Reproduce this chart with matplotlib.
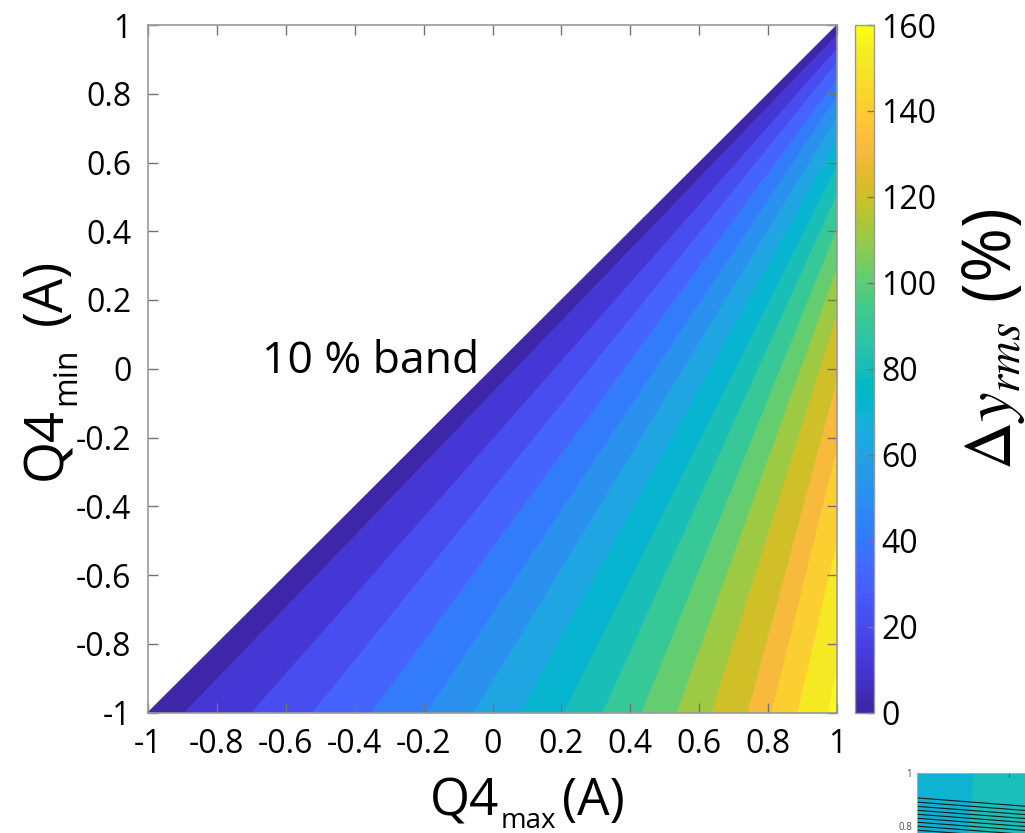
import numpy as np
import matplotlib
matplotlib.use("Agg")
import matplotlib.pyplot as plt
from matplotlib.colors import ListedColormap, Normalize
from matplotlib.cm import ScalarMappable

# ---- data -------------------------------------------------------------
# contour levels of the rms deviation (%)
levels = [0, 10, 20, 30, 40, 50, 60, 70, 80, 90, 100, 110, 120, 130, 140, 150, 160]
# where each level (10 ... 160) crosses the bottom edge Q4min = -1
x_bottom = [-0.893, -0.698, -0.521, -0.350, -0.190, -0.053, 0.080, 0.210,
            0.321, 0.434, 0.536, 0.637, 0.742, 0.811, 0.887, 0.974]
# where each level (10 ... 160) crosses the right edge Q4max = 1
y_right = [0.970, 0.930, 0.890, 0.840, 0.790, 0.730, 0.665, 0.590,
           0.505, 0.405, 0.290, 0.156, -0.039, -0.237, -0.508, -0.869]

tick_vals = [-1, -0.8, -0.6, -0.4, -0.2, 0, 0.2, 0.4, 0.6, 0.8, 1]
tick_labels = ["-1", "-0.8", "-0.6", "-0.4", "-0.2", "0", "0.2", "0.4", "0.6", "0.8", "1"]
cbar_ticks = [0, 20, 40, 60, 80, 100, 120, 140, 160]

# small neighbouring panel peeking in at the corner
inset_lines_left = [0.906, 0.890, 0.874, 0.859, 0.844, 0.829, 0.814, 0.799, 0.784]
inset_lines_right = [0.846, 0.830, 0.815, 0.800, 0.785, 0.770, 0.755, 0.740, 0.725]

# ---- parula colormap --------------------------------------------------
parula_data = [
    [0.2422, 0.1504, 0.6603], [0.2504, 0.1650, 0.7076], [0.2578, 0.1818, 0.7511],
    [0.2647, 0.1978, 0.7952], [0.2706, 0.2147, 0.8364], [0.2751, 0.2342, 0.8710],
    [0.2783, 0.2559, 0.8991], [0.2803, 0.2782, 0.9221], [0.2813, 0.3006, 0.9414],
    [0.2810, 0.3228, 0.9579], [0.2795, 0.3447, 0.9717], [0.2760, 0.3667, 0.9829],
    [0.2699, 0.3892, 0.9906], [0.2602, 0.4123, 0.9952], [0.2440, 0.4358, 0.9988],
    [0.2206, 0.4603, 0.9973], [0.1963, 0.4847, 0.9892], [0.1834, 0.5074, 0.9798],
    [0.1786, 0.5289, 0.9682], [0.1764, 0.5499, 0.9520], [0.1687, 0.5703, 0.9359],
    [0.1540, 0.5902, 0.9218], [0.1460, 0.6091, 0.9079], [0.1380, 0.6276, 0.8973],
    [0.1248, 0.6459, 0.8883], [0.1113, 0.6635, 0.8763], [0.0952, 0.6798, 0.8598],
    [0.0689, 0.6948, 0.8394], [0.0297, 0.7082, 0.8163], [0.0036, 0.7203, 0.7917],
    [0.0067, 0.7312, 0.7660], [0.0433, 0.7411, 0.7394], [0.0964, 0.7500, 0.7120],
    [0.1408, 0.7584, 0.6842], [0.1717, 0.7670, 0.6554], [0.1938, 0.7758, 0.6251],
    [0.2161, 0.7843, 0.5923], [0.2470, 0.7918, 0.5567], [0.2906, 0.7973, 0.5188],
    [0.3406, 0.8008, 0.4789], [0.3909, 0.8029, 0.4354], [0.4456, 0.8024, 0.3909],
    [0.5044, 0.7993, 0.3480], [0.5616, 0.7942, 0.3045], [0.6174, 0.7876, 0.2612],
    [0.6720, 0.7793, 0.2227], [0.7242, 0.7698, 0.1910], [0.7738, 0.7598, 0.1646],
    [0.8203, 0.7498, 0.1535], [0.8634, 0.7406, 0.1596], [0.9035, 0.7330, 0.1774],
    [0.9393, 0.7288, 0.2100], [0.9728, 0.7298, 0.2394], [0.9956, 0.7434, 0.2371],
    [0.9970, 0.7659, 0.2199], [0.9952, 0.7893, 0.2028], [0.9892, 0.8136, 0.1885],
    [0.9786, 0.8386, 0.1766], [0.9676, 0.8639, 0.1643], [0.9610, 0.8890, 0.1537],
    [0.9597, 0.9135, 0.1423], [0.9628, 0.9373, 0.1265], [0.9691, 0.9606, 0.1064],
    [0.9769, 0.9839, 0.0805]]
parula = ListedColormap(parula_data, name="parula")

# ---- fonts ------------------------------------------------------------
plt.rcParams["font.family"] = ["Open Sans", "DejaVu Sans"]
plt.rcParams["axes.unicode_minus"] = False

W, H = 1025, 833
fig = plt.figure(figsize=(W / 100, H / 100), dpi=100)


def px(x, y):
    """pixel position (from top-left) -> figure fraction"""
    return x / W, 1 - y / H


ax_l, ax_r, ax_t, ax_b = 148, 837, 25, 712.5
ax = fig.add_axes([ax_l / W, 1 - ax_b / H, (ax_r - ax_l) / W, (ax_b - ax_t) / H])

norm = Normalize(vmin=levels[0], vmax=levels[-1])

# filled bands between consecutive contour levels
n = len(x_bottom)
for k in range(n + 1):
    if k == 0:
        xs = [-1, x_bottom[0], 1, 1]
        ys = [-1, -1, y_right[0], 1]
    elif k == n:
        xs = [x_bottom[-1], 1, 1]
        ys = [-1, -1, y_right[-1]]
    else:
        xs = [x_bottom[k - 1], x_bottom[k], 1, 1]
        ys = [-1, -1, y_right[k], y_right[k - 1]]
    col = parula(norm(levels[k]))
    ax.fill(xs, ys, facecolor=col, edgecolor=col, linewidth=0.6, zorder=1)

ax.set_xlim(-1, 1)
ax.set_ylim(-1, 1)
ax.set_xticks(tick_vals)
ax.set_xticklabels(tick_labels)
ax.set_yticks(tick_vals)
ax.set_yticklabels(tick_labels)
ax.tick_params(direction="in", length=7, width=1, color="0.45",
               top=True, right=True, labelsize=23)
ax.tick_params(axis="x", pad=11)
ax.tick_params(axis="y", pad=12)
for s in ax.spines.values():
    s.set_color("0.6")
    s.set_linewidth(1.2)
    s.set_zorder(5)

# axis titles with small subscripts
fig.text(*px(430, 815), "Q4", fontsize=37, ha="left", va="baseline")
fig.text(*px(501, 828), "max", fontsize=20, ha="left", va="baseline")
fig.text(*px(562, 815), "(A)", fontsize=37, ha="left", va="baseline")

fig.text(*px(61, 480), "Q4", fontsize=39, ha="left", va="baseline",
         rotation=90, rotation_mode="anchor")
fig.text(*px(75, 405), "min", fontsize=23, ha="left", va="baseline",
         rotation=90, rotation_mode="anchor")
fig.text(*px(61, 325), "(A)", fontsize=39, ha="left", va="baseline",
         rotation=90, rotation_mode="anchor")

ax.text(-0.67, 0.02, "10 % band", fontsize=32, ha="left", va="center", zorder=6)

# colour bar
cax = fig.add_axes([855 / W, 1 - ax_b / H, 19 / W, (ax_b - ax_t) / H])
sm = ScalarMappable(norm=norm, cmap=parula)
cb = fig.colorbar(sm, cax=cax, ticks=cbar_ticks)
cb.ax.tick_params(direction="in", length=5, width=1, color="0.45",
                  labelsize=23, pad=5)
cb.outline.set_edgecolor("0.6")
cb.outline.set_linewidth(1.0)

fig.text(*px(993, 339), r"$\Delta y_{rms}$ (%)", rotation=90,
         fontsize=48, ha="center", va="center", math_fontfamily="stix")

# neighbouring panel at the lower right corner
ins = fig.add_axes([917 / W, 1 - 900 / H, 0.2, 127 / H])
ins.set_xlim(0, 1)
ins.set_ylim(0.52, 1.0)
ins.fill([0, 0.28, 0.22, 0], [1.0, 1.0, 0.52, 0.52], color=(0.05, 0.70, 0.82))
ins.fill([0.28, 1, 1, 0.22], [1.0, 1.0, 0.52, 0.52], color=(0.10, 0.75, 0.73))
for yl, yr in zip(inset_lines_left, inset_lines_right):
    ins.plot([0, 1], [yl, yr], color="0.1", linewidth=0.8)
ins.set_xticks([0.45])
ins.set_xticklabels([])
ins.set_yticks([1.0, 0.8])
ins.set_yticklabels(["1", "0.8"])
ins.tick_params(direction="in", length=3, labelsize=7, colors="0.3", top=True)
for s in ins.spines.values():
    s.set_color("0.7")
    s.set_linewidth(0.6)

fig.savefig("out.png", dpi=100)
